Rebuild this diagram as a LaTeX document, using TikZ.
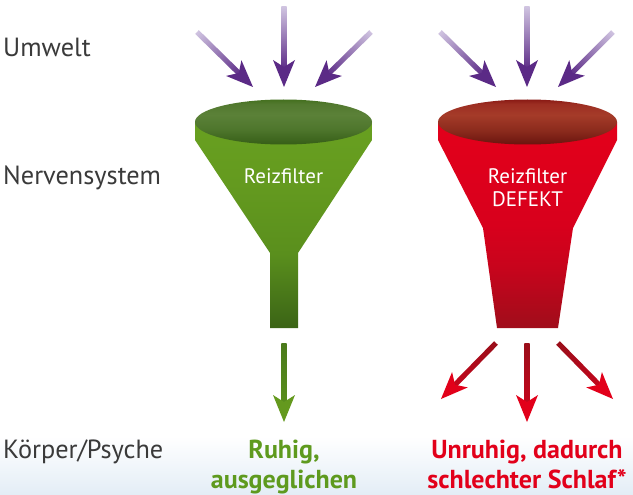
\documentclass[tikz,border=0pt]{standalone}
\usepackage{fontspec}
\setmainfont{PT Sans}
\usetikzlibrary{calc}
\definecolor{lbl}{HTML}{3A3A3A}
\definecolor{gtxt}{HTML}{5E9A1E}
\definecolor{rtxt}{HTML}{E2001A}
\definecolor{plight}{HTML}{CFC3E0}
\definecolor{pdark}{HTML}{5B2A86}
\definecolor{rshaft}{HTML}{9A0E1A}
\definecolor{rshaftb}{HTML}{C4061C}
\definecolor{rhead}{HTML}{E2001A}
\definecolor{gshaft}{HTML}{4A7A1B}
\definecolor{gshaftb}{HTML}{5A8E1D}
\definecolor{ghead}{HTML}{64991E}
\definecolor{bgblue}{HTML}{E3EDF6}
% body colours
\definecolor{gbA}{HTML}{3B6416}
\definecolor{gbB}{HTML}{5A8F1D}
\definecolor{gbC}{HTML}{649A1F}
\definecolor{gbD}{HTML}{68A020}
\definecolor{rbA}{HTML}{A00D1B}
\definecolor{rbB}{HTML}{C8041C}
\definecolor{rbC}{HTML}{D8001C}
\definecolor{rbD}{HTML}{E3001B}
\definecolor{grA}{HTML}{365E17}
\definecolor{grB}{HTML}{4E762C}
\definecolor{grC}{HTML}{5B8138}
\definecolor{grD}{HTML}{52792F}
\definecolor{grE}{HTML}{44701F}
\definecolor{rrA}{HTML}{6A140E}
\definecolor{rrB}{HTML}{8A2A1C}
\definecolor{rrC}{HTML}{A53B29}
\definecolor{rrD}{HTML}{9C2E22}
\definecolor{rrE}{HTML}{8A1A14}
% funnel bodies: 25bp = bottom of stem, 75bp = rim
\pgfdeclareverticalshading{greenbody}{100bp}{
  color(0bp)=(gbA); color(25bp)=(gbA);
  color(43bp)=(gbB); color(60bp)=(gbC);
  color(75bp)=(gbD); color(100bp)=(gbD)}
\pgfdeclareverticalshading{redbody}{100bp}{
  color(0bp)=(rbA); color(25bp)=(rbA);
  color(40bp)=(rbB); color(50bp)=(rbC);
  color(75bp)=(rbD); color(100bp)=(rbD)}
\pgfdeclareverticalshading{greenrim}{100bp}{
  color(0bp)=(grA); color(25bp)=(grA);
  color(42bp)=(grB); color(58bp)=(grC);
  color(70bp)=(grD); color(75bp)=(grE); color(100bp)=(grE)}
\pgfdeclareverticalshading{redrim}{100bp}{
  color(0bp)=(rrA); color(25bp)=(rrA);
  color(40bp)=(rrB); color(58bp)=(rrC);
  color(70bp)=(rrD); color(75bp)=(rrE); color(100bp)=(rrE)}
\tikzset{
  lbltext/.style={anchor=base west, text=lbl, font=\fontsize{26.3}{30}\selectfont, inner sep=0pt},
  restext/.style={anchor=base, font=\bfseries\fontsize{26}{30}\selectfont, inner sep=0pt, align=center},
  funneltext/.style={anchor=base, text=white, font=\fontsize{21}{25}\selectfont, inner sep=0pt, align=center},
}
% #1 tail, #2 tip, #3 tail colour, #4 shaft colour near head, #5 head colour
\newcommand\gradarrow[5]{%
  \pgfpointdiff{\pgfpointanchor{#1}{center}}{\pgfpointanchor{#2}{center}}%
  \pgfgetlastxy{\gadx}{\gady}%
  \pgfmathsetmacro\gaang{atan2(\gady,\gadx)}%
  \pgfmathsetmacro\galen{veclen(\gadx,\gady)}%
  \pgfpointanchor{#2}{center}\pgfgetlastxy{\gatx}{\gaty}%
  \begin{scope}[transform canvas={shift={(\gatx,\gaty)}, rotate=\gaang}]
    \shade[left color=#3, right color=#4] ({-\galen pt},-2.6pt) rectangle (-17pt,2.6pt);
    \fill[#5] (0pt,0pt) -- (-27pt,11pt) -- (-20pt,0pt) -- (-27pt,-11pt) -- cycle;
  \end{scope}}
\begin{document}
\begin{tikzpicture}[x=1pt,y=-1pt]
\useasboundingbox (0,0) rectangle (633,495);
\fill[white] (0,0) rectangle (633,495);
\shade[top color=white, bottom color=bgblue] (0,436) rectangle (633,495);

% labels
\node[lbltext] (umwelt) at (3,57) {Umwelt};
\node[lbltext] (nerv) at (3,184) {Nervensystem};
\node[lbltext] (koerper) at (3,458) {Körper/Psyche};

% green funnel
\shade[shading=greenbody]
  (195,122) -- (195,140) -- (270,253) -- (270,328) -- (298,328) -- (298,253) -- (372,140) -- (372,122) -- cycle;
\shade[shading=greenrim]
  (283.5,122) ellipse [x radius=88.5pt, y radius=22.5pt];
\node[funneltext] (gf) at (283.5,183) {Reizfilter};

% red funnel
\shade[shading=redbody]
  (438,122) -- (438,140) -- (483,228) -- (497,328) -- (558,328) -- (573,228) -- (617,140) -- (617,122) -- cycle;
\shade[shading=redrim]
  (527.5,122) ellipse [x radius=89.5pt, y radius=22.5pt];
\node[funneltext] (rf) at (527.5,183) {Reizfilter};
\node[funneltext] (rf2) at (527.5,207) {DEFEKT};

% coordinates for arrows
\coordinate (ga1t) at (197,32);  \coordinate (ga1h) at (253,87);
\coordinate (ga2t) at (284,7);   \coordinate (ga2h) at (284,87);
\coordinate (ga3t) at (371,32);  \coordinate (ga3h) at (315,87);
\coordinate (ra1t) at (440,32);  \coordinate (ra1h) at (496,87);
\coordinate (ra2t) at (527,7);   \coordinate (ra2h) at (527,87);
\coordinate (ra3t) at (613,32);  \coordinate (ra3h) at (558,87);
\coordinate (gdt) at (284,343);  \coordinate (gdh) at (284,422);
\coordinate (rd1t) at (496,343); \coordinate (rd1h) at (441,399);
\coordinate (rd2t) at (527,343); \coordinate (rd2h) at (527,422);
\coordinate (rd3t) at (558,343); \coordinate (rd3h) at (613,399);

\gradarrow{ga1t}{ga1h}{plight}{pdark}{pdark}
\gradarrow{ga2t}{ga2h}{plight}{pdark}{pdark}
\gradarrow{ga3t}{ga3h}{plight}{pdark}{pdark}
\gradarrow{ra1t}{ra1h}{plight}{pdark}{pdark}
\gradarrow{ra2t}{ra2h}{plight}{pdark}{pdark}
\gradarrow{ra3t}{ra3h}{plight}{pdark}{pdark}
\gradarrow{gdt}{gdh}{gshaft}{gshaftb}{ghead}
\gradarrow{rd1t}{rd1h}{rshaft}{rshaftb}{rhead}
\gradarrow{rd2t}{rd2h}{rshaft}{rshaftb}{rhead}
\gradarrow{rd3t}{rd3h}{rshaft}{rshaftb}{rhead}

% results
\node[restext, text=gtxt] (ruhig) at (284,458) {Ruhig,};
\node[restext, text=gtxt] (ausg) at (284,488) {ausgeglichen};
\node[restext, text=rtxt] (unruhig) at (527,458) {Unruhig, dadurch};
\node[restext, text=rtxt] (schlaf) at (527,488) {schlechter Schlaf*};
\end{tikzpicture}
\end{document}
